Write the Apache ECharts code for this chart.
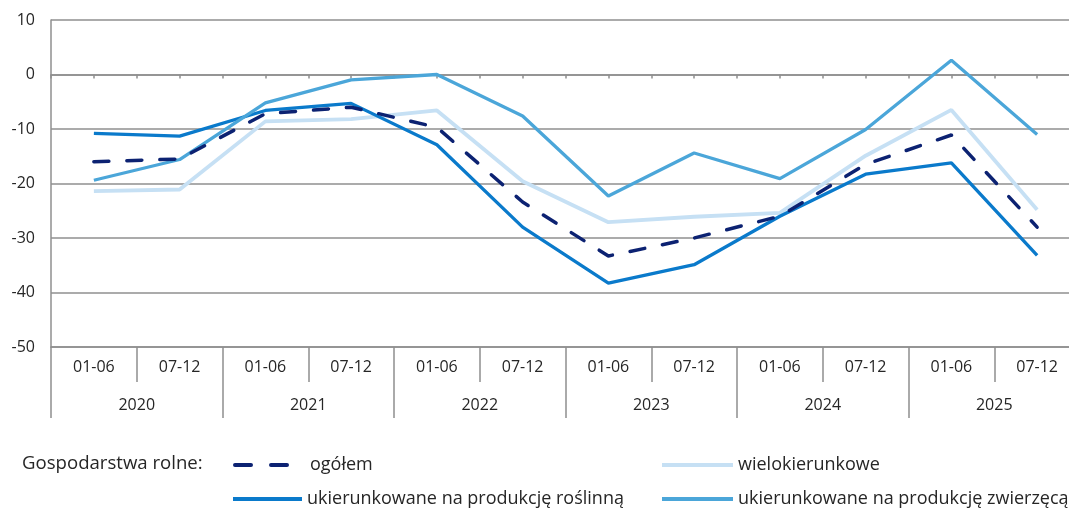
<!DOCTYPE html>
<html>
<head>
<meta charset="utf-8">
<script src="https://cdn.jsdelivr.net/npm/echarts@6/dist/echarts.min.js"></script>
<style>html,body{margin:0;padding:0;background:#fff}#c{width:1069px;height:512px}</style>
</head>
<body>
<div id="c"></div>
<script>
var halfYears = ['01-06','07-12','01-06','07-12','01-06','07-12','01-06','07-12','01-06','07-12','01-06','07-12'];
var years = ['2020','2021','2022','2023','2024','2025'];
var yTicks = {min: -50, max: 10, interval: 10};
var ogolem = [-16.0, -15.5, -7.2, -6.0, -9.7, -23.4, -33.3, -30.0, -26.0, -16.5, -11.1, -28.0];
var wielokierunkowe = [-21.4, -21.1, -8.6, -8.2, -6.6, -19.6, -27.1, -26.1, -25.4, -14.9, -6.5, -24.8];
var roslinna = [-10.8, -11.3, -6.6, -5.3, -12.9, -28.0, -38.3, -34.9, -26.0, -18.3, -16.2, -33.2];
var zwierzeca = [-19.4, -15.6, -5.2, -1.0, 0.0, -7.6, -22.3, -14.4, -19.1, -10.1, 2.6, -11.0];
var names = ['ogółem', 'wielokierunkowe', 'ukierunkowane na produkcję roślinną', 'ukierunkowane na produkcję zwierzęcą'];

var FONT = 'Open Sans';
var GRID = '#8f8f8f';
var TXT = '#262626';
var halfTicks = [];
for (var i = 0; i < halfYears.length * 2; i++) halfTicks.push('');

var chart = echarts.init(document.getElementById('c'), null, {renderer: 'canvas'});
function legend(name, left, top, w, extra) {
  var d = {name: name};
  var ls = {width: 4};
  if (extra) { for (var k in extra) ls[k] = extra[k]; }
  d.lineStyle = ls;
  return {
    data: [d], left: left, top: top, padding: 0, orient: 'horizontal',
    itemWidth: w, itemHeight: 14, selectedMode: false,
    itemStyle: {opacity: 0},
    textStyle: {fontFamily: FONT, fontSize: 18, color: TXT}
  };
}
chart.setOption({
  animation: false,
  backgroundColor: '#fff',
  textStyle: {fontFamily: FONT},
  grid: {left: 51, top: 20, width: 1029, height: 327, containLabel: false, outerBoundsMode: 'none'},
  graphic: [{
    type: 'text', left: 22, top: 454,
    style: {text: 'Gospodarstwa rolne:', font: '18.6px "Open Sans"', fill: TXT}
  }],
  legend: [
    legend(names[0], 233, 456, 70, {type: [16, 20], cap: 'round', width: 4}),
    legend(names[1], 660, 456, 71),
    legend(names[2], 231, 490, 69),
    legend(names[3], 660, 490, 71)
  ],
  xAxis: [{
    type: 'category', data: halfYears, position: 'bottom', boundaryGap: true,
    axisLine: {onZero: false, show: true, lineStyle: {color: GRID, width: 1.5}},
    axisTick: {show: true, length: 35, interval: 0, lineStyle: {color: GRID, width: 1.5}},
    axisLabel: {interval: 0, margin: 12, fontFamily: FONT, fontSize: 16, color: TXT},
    splitLine: {show: false}
  }, {
    type: 'category', data: years, position: 'bottom', boundaryGap: true,
    axisLine: {onZero: false, show: false},
    axisTick: {show: true, length: 71, interval: 0, lineStyle: {color: GRID, width: 1.5}},
    axisLabel: {interval: 0, margin: 50, fontFamily: FONT, fontSize: 16, color: TXT},
    splitLine: {show: false}
  }, {
    type: 'category', data: halfTicks, position: 'bottom', boundaryGap: true,
    axisLine: {onZero: true, show: true, lineStyle: {color: GRID, width: 1.5}},
    axisTick: {show: true, length: 4, interval: 0, lineStyle: {color: GRID, width: 1.5}},
    axisLabel: {show: false},
    splitLine: {show: false}
  }],
  yAxis: {
    type: 'value', min: yTicks.min, max: yTicks.max, interval: yTicks.interval,
    axisLine: {show: true, lineStyle: {color: GRID, width: 1.5}},
    axisTick: {show: false},
    axisLabel: {margin: 16, fontFamily: FONT, fontSize: 16, color: TXT},
    splitLine: {show: true, lineStyle: {color: GRID, width: 1.5}}
  },
  series: [{
    name: names[0], type: 'line', data: ogolem, symbol: 'none', z: 5,
    lineStyle: {color: '#0c2272', width: 3.5, type: [15, 18], cap: 'round'},
    itemStyle: {color: '#0c2272'}
  }, {
    name: names[1], type: 'line', data: wielokierunkowe, symbol: 'none', z: 2,
    lineStyle: {color: '#c6e0f4', width: 3.8},
    itemStyle: {color: '#c6e0f4'}
  }, {
    name: names[2], type: 'line', data: roslinna, symbol: 'none', z: 3,
    lineStyle: {color: '#0a7acb', width: 3.3},
    itemStyle: {color: '#0a7acb'}
  }, {
    name: names[3], type: 'line', data: zwierzeca, symbol: 'none', z: 4,
    lineStyle: {color: '#4ba6d9', width: 3.3},
    itemStyle: {color: '#4ba6d9'}
  }]
});
</script>
</body>
</html>
